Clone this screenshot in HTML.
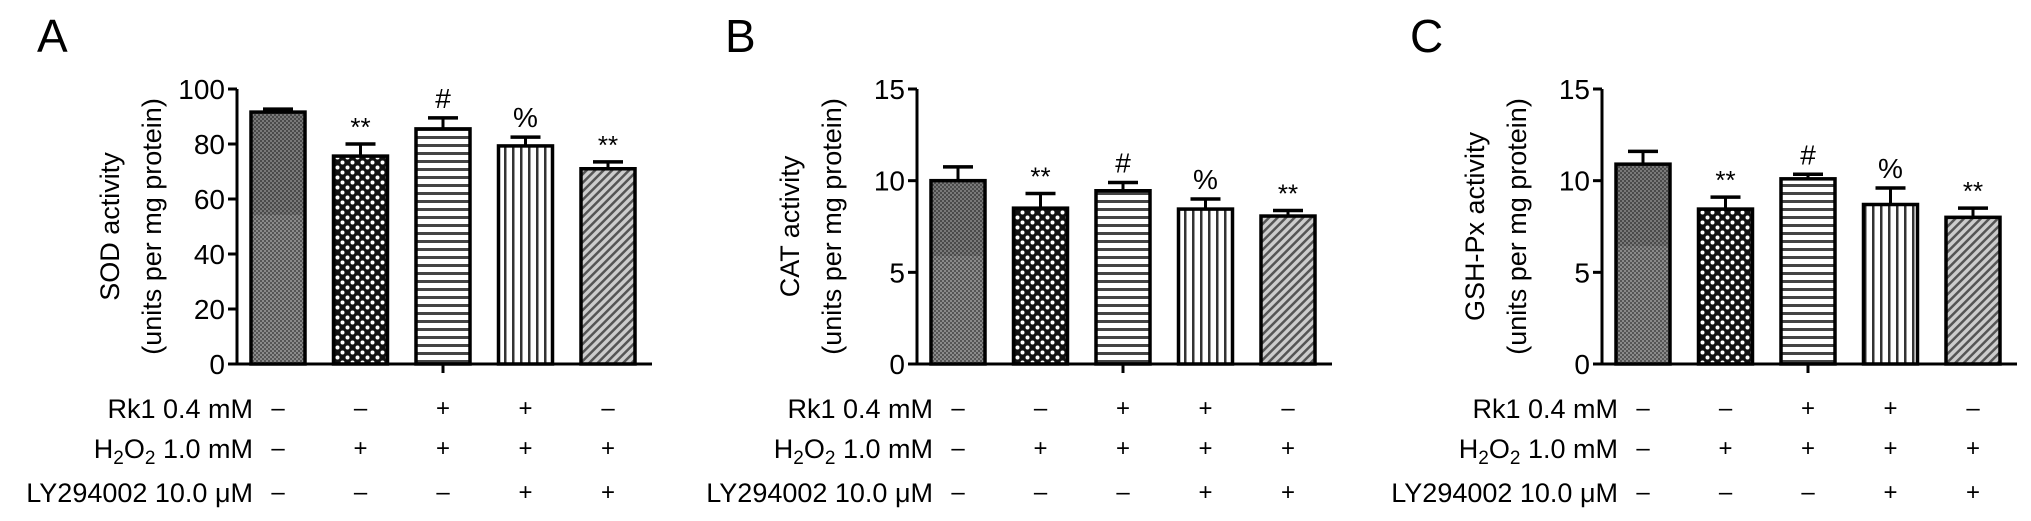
<!DOCTYPE html>
<html><head><meta charset="utf-8">
<style>
html,body{margin:0;padding:0;background:#fff;}
svg{display:block;font-family:"Liberation Sans",Arial,sans-serif;}
</style></head>
<body>
<svg id="fig" width="2031" height="521" viewBox="0 0 2031 521" xmlns="http://www.w3.org/2000/svg">
<defs>
<pattern id="p0" patternUnits="userSpaceOnUse" width="4" height="4"><rect width="4" height="4" fill="#8a8a8a"/><rect width="2" height="2" fill="#555"/><rect x="2" y="2" width="2" height="2" fill="#555"/></pattern>
<pattern id="p1" patternUnits="userSpaceOnUse" width="10" height="10"><rect width="10" height="10" fill="#111"/><circle cx="2.5" cy="2.5" r="2" fill="#fff"/><circle cx="7.5" cy="7.5" r="2" fill="#fff"/></pattern>
<pattern id="p2" patternUnits="userSpaceOnUse" width="8" height="8"><rect width="8" height="8" fill="#fff"/><rect y="0" width="8" height="3" fill="#444"/></pattern>
<pattern id="p3" patternUnits="userSpaceOnUse" width="8" height="8"><rect width="8" height="8" fill="#fff"/><rect x="0" width="2.5" height="8" fill="#333"/></pattern>
<pattern id="p4" patternUnits="userSpaceOnUse" width="6" height="6" patternTransform="rotate(45)"><rect width="6" height="6" fill="#ccc"/><rect width="2.5" height="6" fill="#555"/></pattern>
</defs>
</svg>
<script>
const panelLetters = ['A','B','C'];
const titles = ['SOD activity','CAT activity','GSH-Px activity'];
const maxes = [100, 15, 15];
const tickStep = [20, 5, 5];
const sodMeans = [91.6, 75.6, 85.5, 79.3, 71.0];
const sodErr = [1.1, 4.4, 4.0, 3.2, 2.5];
const catMeans = [10.0, 8.5, 9.45, 8.45, 8.07];
const catErr = [0.75, 0.8, 0.45, 0.55, 0.3];
const gshMeans = [10.9, 8.45, 10.1, 8.7, 8.0];
const gshErr = [0.7, 0.65, 0.25, 0.9, 0.5];
const sigMarks = ['', '**', '#', '%', '**'];
const rowLabels = ['Rk1 0.4 mM', 'H2O2 1.0 mM', 'LY294002 10.0 \u03bcM'];
const rk1 = ['\u2013','\u2013','+','+','\u2013'];
const h2o2 = ['\u2013','+','+','+','+'];
const ly = ['\u2013','\u2013','\u2013','+','+'];

const svg = document.getElementById('fig');
const NS = 'http://www.w3.org/2000/svg';
function mk(tag, attrs, parent){const e=document.createElementNS(NS,tag);for(const k in attrs)e.setAttribute(k,attrs[k]);(parent||svg).appendChild(e);return e;}

const means = [sodMeans, catMeans, gshMeans];
const errs = [sodErr, catErr, gshErr];
const axisX = [237, 917, 1602];
const letterX = [37, 725, 1410];
const yTop = 89, yBot = 364;

for (let p=0;p<3;p++){
  const ax = axisX[p];
  const g = mk('g',{});
  
  
  const y = v => yBot - v/maxes[p]*(yBot-yTop);
  const xc = i => ax + 41 + i*82.5;
  const L = mk('text',{x:letterX[p], y:52, 'font-size':46}, g); L.textContent=panelLetters[p];
  
  
  // y title
  const t = mk('text',{transform:`translate(${ax-118},${(yTop+yBot)/2}) rotate(-90)`,'text-anchor':'middle','font-size':27}, g);
  
  
  const s1 = mk('tspan',{x:0,y:0},t); s1.textContent=titles[p];
  const s2 = mk('tspan',{x:0,y:42},t); s2.textContent='(units per mg protein)';
  // axes
  const ya = mk('line',{x1:ax,y1:yTop,x2:ax,y2:yBot+1.5,stroke:'#000','stroke-width':3}, g);
  
  
  for(let v=0; v<=maxes[p]; v+=tickStep[p]){
    mk('line',{x1:ax-9,y1:y(v),x2:ax,y2:y(v),stroke:'#000','stroke-width':3}, g);
    const tl = mk('text',{x:ax-12,y:y(v)+10,'text-anchor':'end','font-size':28}, g);
    tl.textContent = v;
    
    
  }
  // bars
  for(let i=0;i<5;i++){
    const m = means[p][i], e = errs[p][i], c = xc(i);
    const top = y(m), et = y(m+e);
    mk('line',{x1:c,y1:top,x2:c,y2:et,stroke:'#000','stroke-width':3}, g);
    mk('line',{x1:c-15,y1:et,x2:c+15,y2:et,stroke:'#000','stroke-width':3.5}, g);
    const b = mk('rect',{x:c-27,y:top,width:54,height:yBot-top,fill:`url(#p${i})`,stroke:'#000','stroke-width':3.5}, g);
    
    
    if (i===0 && true){
      mk('rect',{x:c-25,y:top+2,width:50,height:(yBot-top)*0.4,fill:'#000',opacity:0.12}, g);
    }
    if(sigMarks[i]){
      const st = mk('text',{x:c,y:et-(sigMarks[i]==='**'?8:10),'text-anchor':'middle','font-size':sigMarks[i]==='**'?26:28}, g);
      st.textContent = sigMarks[i];
      
      
    }
  }
  const xa = mk('line',{x1:ax-6,y1:yBot,x2:ax+415,y2:yBot,stroke:'#000','stroke-width':3}, g);
  
  
  mk('line',{x1:xc(2),y1:yBot,x2:xc(2),y2:yBot+9,stroke:'#000','stroke-width':3}, g);
  // treatment rows
  const rowY = [418, 458, 502];
  const rows = [rk1, h2o2, ly];
  for(let r=0;r<3;r++){
    const lt = mk('text',{x:ax+16,y:rowY[r],'text-anchor':'end','font-size':27}, g);
    
    
    if(r===1){
      lt.appendChild(document.createTextNode('H'));
      const a=mk('tspan',{'font-size':19,dy:6},lt); a.textContent='2';
      const b2=mk('tspan',{dy:-6},lt); b2.textContent='O';
      const c2=mk('tspan',{'font-size':19,dy:6},lt); c2.textContent='2';
      const d2=mk('tspan',{dy:-6},lt); d2.textContent=' 1.0 mM';
    } else lt.textContent = rowLabels[r];
    for(let i=0;i<5;i++){
      const sg = mk('text',{x:xc(i)+ (i===0?-0:0),y:rowY[r]-2,'text-anchor':'middle','font-size':24}, g);
      sg.textContent = rows[r][i];
      
      
    }
  }
}
</script>
</body></html>
